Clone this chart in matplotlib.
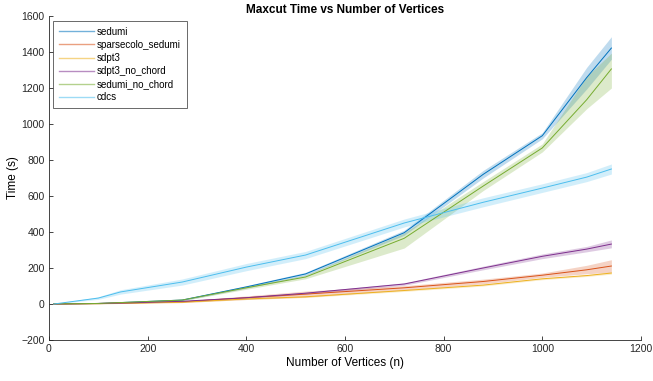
import matplotlib
matplotlib.use("Agg")
import matplotlib.pyplot as plt
import numpy as np

plt.rcParams['font.family'] = ['Liberation Sans', 'DejaVu Sans']

n = [10, 100, 145, 270, 400, 520, 720, 880, 1000, 1090, 1140]

sedumi = [1, 3, 8, 22, 95, 167, 396, 720, 935, 1258, 1422]
sedumi_lo = [0, 2, 6, 18, 88, 158, 382, 700, 918, 1195, 1360]
sedumi_hi = [2, 4, 10, 26, 102, 176, 410, 742, 952, 1315, 1485]

sparsecolo = [1, 3, 5, 12, 35, 55, 90, 125, 160, 190, 211]
sparsecolo_lo = [0, 1, 3, 8, 25, 38, 78, 112, 148, 168, 176]
sparsecolo_hi = [2, 5, 8, 16, 45, 72, 102, 138, 172, 215, 246]

sdpt3 = [0, 2, 4, 10, 28, 40, 75, 105, 140, 158, 172]
sdpt3_lo = [0, 1, 3, 8, 25, 36, 70, 100, 135, 153, 166]
sdpt3_hi = [1, 3, 5, 12, 31, 44, 80, 110, 145, 163, 178]

sdpt3_nc = [0, 3, 5, 15, 35, 60, 111, 200, 265, 305, 333]
sdpt3_nc_lo = [0, 2, 4, 12, 31, 55, 104, 190, 252, 290, 312]
sdpt3_nc_hi = [1, 4, 6, 18, 39, 65, 118, 210, 278, 320, 356]

sedumi_nc = [1, 3, 8, 22, 90, 150, 365, 655, 867, 1135, 1306]
sedumi_nc_lo = [0, 2, 6, 18, 82, 140, 311, 630, 845, 1085, 1200]
sedumi_nc_hi = [2, 4, 10, 26, 98, 160, 395, 680, 890, 1265, 1394]

cdcs = [0, 33, 67, 122, 205, 272, 450, 565, 644, 705, 750]
cdcs_lo = [0, 26, 55, 105, 185, 252, 428, 540, 620, 680, 722]
cdcs_hi = [1, 40, 79, 139, 225, 292, 472, 590, 668, 730, 778]

labels = ['sedumi', 'sparsecolo_sedumi', 'sdpt3', 'sdpt3_no_chord', 'sedumi_no_chord', 'cdcs']
colors = [(0, 0.447, 0.741), (0.85, 0.325, 0.098), (0.929, 0.694, 0.125),
          (0.494, 0.184, 0.556), (0.466, 0.674, 0.188), (0.301, 0.745, 0.933)]
series = [(sedumi, sedumi_lo, sedumi_hi), (sparsecolo, sparsecolo_lo, sparsecolo_hi),
          (sdpt3, sdpt3_lo, sdpt3_hi), (sdpt3_nc, sdpt3_nc_lo, sdpt3_nc_hi),
          (sedumi_nc, sedumi_nc_lo, sedumi_nc_hi), (cdcs, cdcs_lo, cdcs_hi)]

fig = plt.figure(figsize=(6.53, 3.81), dpi=100)
ax = fig.add_axes([0.075, 0.1076, 0.9066, 0.8504])

handles = []
for (m, lo, hi), c, lab in zip(series, colors, labels):
    ax.fill_between(n, lo, hi, color=c, alpha=0.25, linewidth=0)
    h, = ax.plot(n, m, color=c, linewidth=0.7, label=lab)
    handles.append(h)

ax.set_xlim(0, 1200)
ax.set_ylim(-200, 1600)
ax.set_xticks(np.arange(0, 1201, 200))
ax.set_yticks(np.arange(-200, 1601, 200))
for s in ['top', 'right']:
    ax.spines[s].set_visible(False)
for s in ['left', 'bottom']:
    ax.spines[s].set_color('#262626')
    ax.spines[s].set_linewidth(0.6)
ax.tick_params(direction='in', length=3, width=0.6, colors='#262626', labelsize=7.5, pad=3)

ax.set_title('Maxcut Time vs Number of Vertices', fontsize=8.5, fontweight='bold', pad=2)
ax.set_xlabel('Number of Vertices (n)', fontsize=8.5, labelpad=2)
ax.set_ylabel('Time (s)', fontsize=8.5, labelpad=2)

leg = ax.legend(handles=handles, loc='upper left', bbox_to_anchor=(0.007, 0.985),
                fontsize=7, frameon=True, fancybox=False, handlelength=3.6,
                handletextpad=0.3, labelspacing=0.32, borderpad=0.6, borderaxespad=0)
leg.get_frame().set_edgecolor('#262626')
leg.get_frame().set_linewidth(0.6)
for lh in leg.get_lines():
    lh.set_alpha(0.55)
    lh.set_linewidth(1.0)

fig.savefig('out.png', dpi=100)
